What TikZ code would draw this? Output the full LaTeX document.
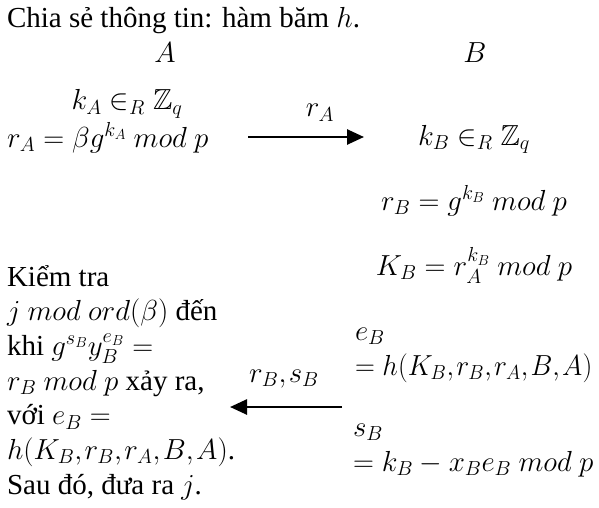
\documentclass[tikz,border=0pt]{standalone}
\usepackage{fix-cm}
\usepackage{amssymb}
\usepackage{graphicx}
\usepackage{fontspec}
\setmainfont{Liberation Serif}
\usetikzlibrary{arrows.meta}
\DeclareFontFamily{U}{msb}{}
\DeclareFontShape{U}{msb}{m}{n}{<-> msbm10}{}
\newcommand{\tcm}{{,}\mkern1.5mu}
\tikzset{
  txt/.style={inner sep=0pt, outer sep=0pt, font=\fontsize{29}{35}\selectfont},
  msg/.style={line width=2.6pt, -{Triangle[length=17pt,width=15pt]}},
}
\begin{document}
\begin{tikzpicture}[x=1pt,y=-1pt]
\useasboundingbox (0,0) rectangle (599,508);
\node[txt,anchor=base west] (title) at (7,28) {Chia sẻ thông tin: hàm băm $h$.};
\node[txt,anchor=base] (A) at (165,63) {$A$};
\node[txt,anchor=base] (B) at (475,63) {$B$};
\node[txt,anchor=base] (kA) at (127,110) {$k_A \in_R \mathbb{Z}_q$};
\node[txt,anchor=base west] (rA) at (7,147) {$r_A = \beta g^{k_A}\ mod\ p$};
\node[txt,anchor=base] (lab1) at (320,117) {$r_A$};
\coordinate (a1s) at (248,137);
\coordinate (a1e) at (364,137);
\draw[msg] (a1s) -- (a1e);
\node[txt,anchor=base] (kB) at (474,145) {$k_B \in_R \mathbb{Z}_q$};
\node[txt,anchor=base] (rB) at (474,210) {$r_B = g^{k_B}\ mod\ p$};
\node[txt,anchor=base] (KB) at (474,275) {$K_B = r_A^{k_B}\ mod\ p$};
\node[txt,anchor=base west] (eB) at (355,340) {$e_B$};
\node[txt,anchor=base west] (eBv) at (355,375) {\scalebox{0.95}[1]{$= h(K_B\tcm r_B\tcm r_A\tcm B\tcm A)$}};
\node[txt,anchor=base west] (sB) at (353,436) {$s_B$};
\node[txt,anchor=base west] (sBv) at (353,471) {$= k_B - x_B e_B\ mod\ p$};
\node[txt,anchor=base] (lab2) at (284,382) {$r_B\tcm s_B$};
\coordinate (a2s) at (342,407);
\coordinate (a2e) at (230,407);
\draw[msg] (a2s) -- (a2e);
\node[txt,anchor=base west] (L1) at (7,286) {Kiểm tra};
\node[txt,anchor=base west] (L2) at (7,320.7) {$j\ mod\ ord(\beta)$ đến};
\node[txt,anchor=base west] (L3) at (7,355.4) {khi $g^{s_B}y_B^{e_B} =$};
\node[txt,anchor=base west] (L4) at (7,390) {$r_B\ mod\ p$ xảy ra,};
\node[txt,anchor=base west] (L5) at (7,424.8) {với $e_B =$};
\node[txt,anchor=base west] (L6) at (7,459.5) {$h(K_B\tcm r_B\tcm r_A\tcm B\tcm A)$.};
\node[txt,anchor=base west] (L7) at (7,494) {Sau đó, đưa ra $j$.};
\end{tikzpicture}
\end{document}
